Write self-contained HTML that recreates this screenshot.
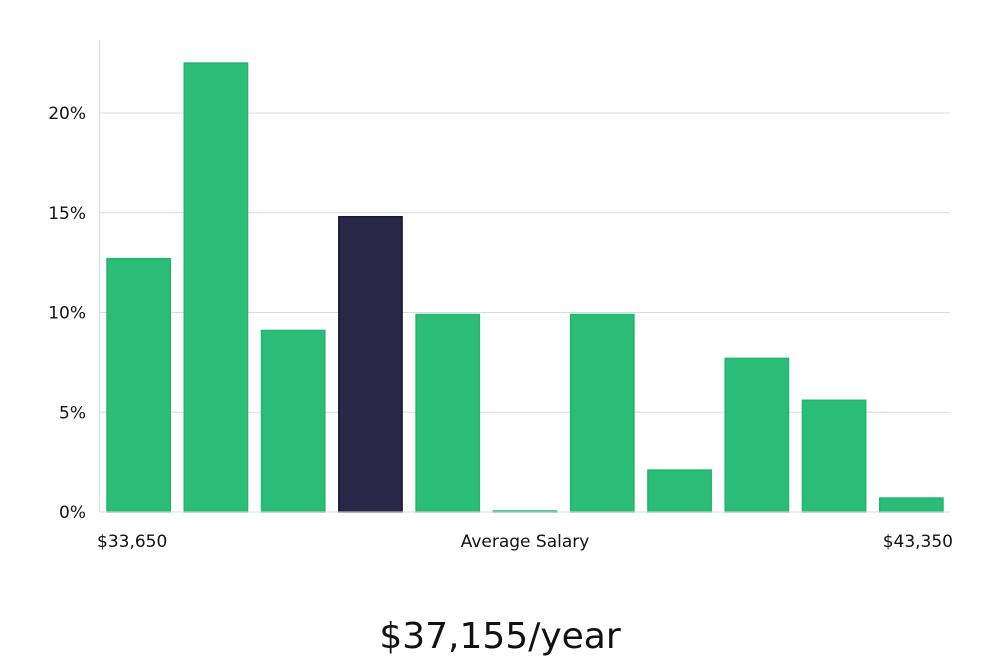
<!DOCTYPE html>
<html><head><meta charset="utf-8"><style>
body{margin:0;background:#fff;width:1000px;height:660px;overflow:hidden;font-family:"DejaVu Sans","Liberation Sans",sans-serif}
svg text{font-family:"DejaVu Sans","Liberation Sans",sans-serif}
</style></head><body>
<svg id="chart" width="1000" height="660" xmlns="http://www.w3.org/2000/svg"></svg>
<script>
const categories = ["b1","b2","b3","b4","b5","b6","b7","b8","b9","b10","b11"];
const values = [12.7, 22.5, 9.1, 14.8, 9.9, 0.05, 9.9, 2.1, 7.7, 5.6, 0.7];
const highlightIndex = 3;
const yTicks = [0, 5, 10, 15, 20];
const yTickLabels = ["0%","5%","10%","15%","20%"];
const xMinLabel = "$33,650";
const xMaxLabel = "$43,350";
const xTitle = "Average Salary";
const salaryTitle = "$37,155/year";

const NS = "http://www.w3.org/2000/svg";
const svg = document.getElementById("chart");
const L = 100, R = 950, B = 512, T = 40;
const y = v => B - v * (B - 113) / 20;
const slot = (R - L) / categories.length;
const x = i => L + 7 + i * slot;
const bw = slot - 14;
function mk(tag, attrs, parent) {
  const e = document.createElementNS(NS, tag);
  for (const k in attrs) e.setAttribute(k, attrs[k]);
  (parent || svg).appendChild(e);
  return e;
}
yTicks.forEach((t, i) => {
  if (t > 0) {
    const g = mk("line", {x1: L, x2: R, y1: y(t), y2: y(t), stroke: "#dcdcdc", "stroke-width": 1});
    
    
  }
  const tx = mk("text", {x: 86, y: y(t) + 6, "text-anchor": "end", "font-size": 17, fill: "#111"});
  tx.textContent = yTickLabels[i];
  
  
});
const ax = mk("line", {x1: 99.5, x2: 99.5, y1: T, y2: B, stroke: "#dcdcdc", "stroke-width": 1});


values.forEach((v, i) => {
  const hi = i === highlightIndex;
  const r = mk("rect", {x: x(i), y: y(v), width: bw, height: Math.max(B - y(v), 1),
    fill: hi ? "#2a2648" : "#2bbd77", stroke: hi ? "#1a1638" : "#22b56d", "stroke-width": 1.5});
  
  
});
const bl = mk("line", {x1: L, x2: R, y1: B, y2: B, stroke: "#dcdcdc", "stroke-width": 1});


const a = mk("text", {x: 97, y: 547, "font-size": 17, fill: "#111"});
a.textContent = xMinLabel;


const b = mk("text", {x: 953, y: 547, "font-size": 17, fill: "#111", "text-anchor": "end"});
b.textContent = xMaxLabel;


const c = mk("text", {x: 525, y: 547, "font-size": 17, fill: "#111", "text-anchor": "middle"});
c.textContent = xTitle;


const d = mk("text", {x: 500, y: 648, "font-size": 36, fill: "#111", "text-anchor": "middle", "font-family": "Liberation Sans, sans-serif"});
d.textContent = salaryTitle;


</script>
</body></html>
